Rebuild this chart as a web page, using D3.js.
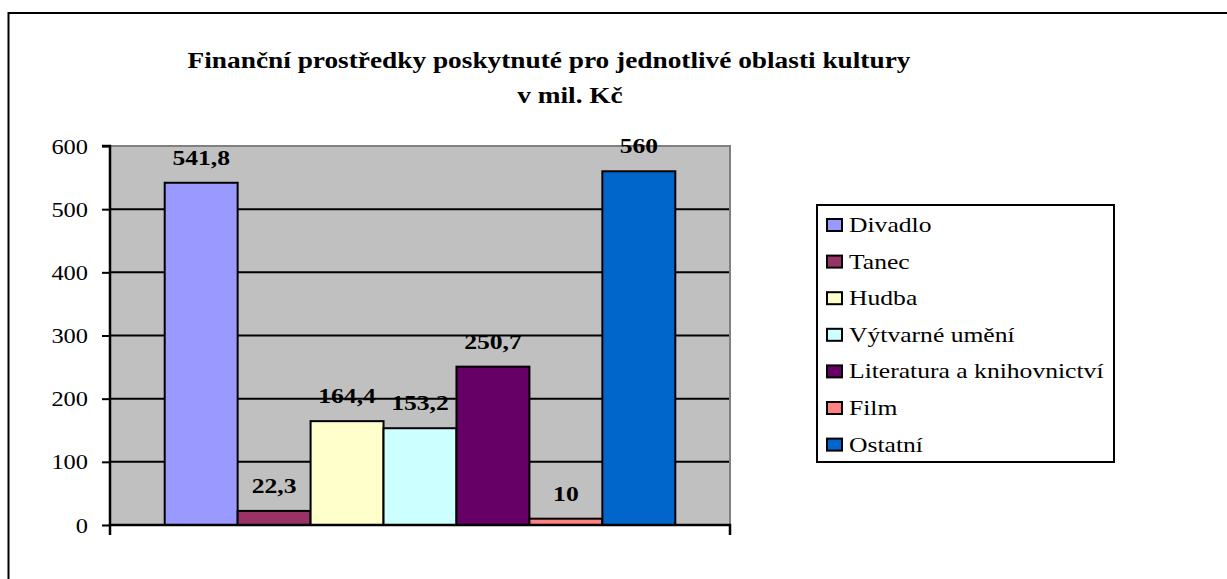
<!DOCTYPE html>
<html>
<head>
<meta charset="utf-8">
<script src="https://cdn.jsdelivr.net/npm/d3@7"></script>
<style>
  html, body { margin: 0; padding: 0; background: #fff; }
  svg { display: block; }
</style>
</head>
<body>
<div id="chart"></div>
<script>
  'use strict';

  // data
  const categories = ['Divadlo', 'Tanec', 'Hudba', 'Výtvarné umění', 'Literatura a knihovnictví', 'Film', 'Ostatní'];
  const values = [541.8, 22.3, 164.4, 153.2, 250.7, 10, 560];
  const valueLabels = ['541,8', '22,3', '164,4', '153,2', '250,7', '10', '560'];
  const colors = ['#9999ff', '#993366', '#ffffcc', '#ccffff', '#660066', '#ff8080', '#0066cc'];
  const yTicks = [0, 100, 200, 300, 400, 500, 600];
  const titleLines = ['Finanční prostředky poskytnuté pro jednotlivé oblasti kultury', 'v mil. Kč'];

  const W = 1227, H = 579;
  const plot = { left: 110, right: 730, top: 146, bottom: 525 };
  const serif = "'Liberation Serif', 'Times New Roman', Times, serif";
  const sx = 1.22; // the original picture is stretched sideways

  const svg = d3.select('#chart').append('svg')
    .attr('width', W)
    .attr('height', H);

  // text helper: places a (horizontally stretched) label
  function label(parent, x, y, txt, size, anchor, bold) {
    return parent.append('text')
      .attr('transform', `translate(${x},${y}) scale(${sx},1)`)
      .attr('text-anchor', anchor)
      .attr('font-family', serif)
      .attr('font-size', size + 'px')
      .attr('font-weight', bold ? 'bold' : 'normal')
      .attr('fill', '#000')
      .text(txt);
  }

  // outer frame (runs off the right and bottom edge)
  svg.append('rect')
    .attr('x', 8.5).attr('y', 13)
    .attr('width', W + 20).attr('height', H + 20)
    .attr('fill', '#fff')
    .attr('stroke', '#000')
    .attr('stroke-width', 2);

  // title
  label(svg, 549, 68, titleLines[0], 22.4, 'middle', true);
  label(svg, 570, 103, titleLines[1], 22.4, 'middle', true);

  const y = d3.scaleLinear().domain([0, 600]).range([plot.bottom, plot.top]);
  const x = d3.scaleBand().domain(categories)
    .range([plot.left, plot.right])
    .paddingInner(0)
    .paddingOuter(0.75);

  // plot area
  svg.append('rect')
    .attr('x', plot.left).attr('y', plot.top)
    .attr('width', plot.right - plot.left)
    .attr('height', plot.bottom - plot.top)
    .attr('fill', '#c0c0c0');
  svg.append('path')
    .attr('d', `M${plot.left},${plot.top}H${plot.right}V${plot.bottom}`)
    .attr('fill', 'none')
    .attr('stroke', '#808080')
    .attr('stroke-width', 2);

  // gridlines
  svg.append('g').selectAll('line')
    .data(yTicks.filter(d => d > 0 && d < 600))
    .enter().append('line')
    .attr('x1', plot.left).attr('x2', plot.right - 1)
    .attr('y1', d => y(d)).attr('y2', d => y(d))
    .attr('stroke', '#000')
    .attr('stroke-width', 2);

  // bars
  svg.append('g').selectAll('rect')
    .data(values)
    .enter().append('rect')
    .attr('x', (d, i) => x(categories[i]))
    .attr('y', d => y(d))
    .attr('width', x.bandwidth())
    .attr('height', d => y(0) - y(d))
    .attr('fill', (d, i) => colors[i])
    .attr('stroke', '#000')
    .attr('stroke-width', 2);

  // value labels
  const valG = svg.append('g');
  values.forEach((d, i) => {
    label(valG, x(categories[i]) + x.bandwidth() / 2, y(d) - 18, valueLabels[i], 21, 'middle', true);
  });

  // y axis
  const yAxis = svg.append('g')
    .attr('transform', `translate(${plot.left},0)`)
    .call(d3.axisLeft(y).tickValues(yTicks).tickSize(8).tickFormat(d3.format('d')));
  yAxis.select('.domain').attr('stroke', '#000').attr('stroke-width', 2.5)
    .attr('d', `M-8,${plot.top}H0V${plot.bottom}`);
  yAxis.selectAll('.tick line').attr('stroke', '#000').attr('stroke-width', 2);
  yAxis.selectAll('.tick text')
    .attr('x', null).attr('dy', null)
    .attr('transform', `translate(-22,7) scale(${sx},1)`)
    .attr('font-family', serif)
    .attr('font-size', '20px')
    .attr('fill', '#000');

  // x axis
  svg.append('path')
    .attr('d', `M${plot.left},${plot.bottom + 10}V${plot.bottom}H${plot.right}V${plot.bottom + 10}`)
    .attr('fill', 'none')
    .attr('stroke', '#000')
    .attr('stroke-width', 2.5);

  // legend
  const legend = svg.append('g').attr('transform', 'translate(817,205)');
  legend.append('rect')
    .attr('x', 0).attr('y', 0)
    .attr('width', 297).attr('height', 257)
    .attr('fill', '#fff')
    .attr('stroke', '#000')
    .attr('stroke-width', 2);
  const items = legend.selectAll('g.item')
    .data(categories)
    .enter().append('g')
    .attr('class', 'item')
    .attr('transform', (d, i) => `translate(0, ${27 + i * 36.6})`);
  items.append('rect')
    .attr('x', 10).attr('y', -13)
    .attr('width', 15).attr('height', 12)
    .attr('fill', (d, i) => colors[i])
    .attr('stroke', '#000')
    .attr('stroke-width', 2);
  items.each(function (d) {
    label(d3.select(this), 32, 0, d, 21, 'start', false);
  });
</script>
</body>
</html>
